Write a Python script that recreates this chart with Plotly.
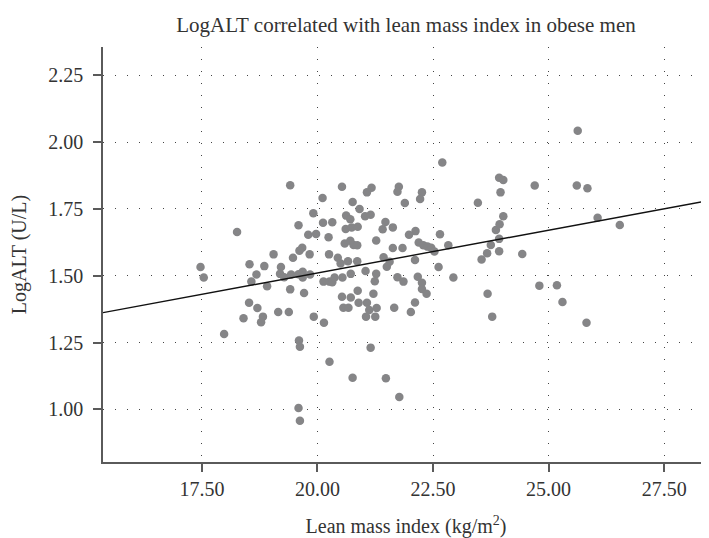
import plotly.graph_objects as go

# Lean mass index (kg/m^2)
lean_mass_index = [
    19.41, 20.11, 19.91, 20.12, 19.59, 18.26, 19.80, 19.97, 20.24, 19.67, 19.61, 19.05, 19.83, 20.25, 19.47, 18.53, 18.85,
    17.47, 19.21, 17.54, 18.68, 19.19, 19.28, 19.43, 19.68, 19.59, 19.68, 19.84, 18.57, 18.91, 19.41, 19.71, 20.13, 20.26,
    18.52, 18.70, 18.40, 18.82, 18.78, 19.15, 19.38, 19.92, 20.14, 17.98, 19.60, 19.62, 20.26, 19.59, 19.62,
    22.70, 23.93, 24.02, 23.96, 20.53, 21.17, 21.07, 21.76, 21.73, 22.26, 22.22, 20.76, 21.89, 23.47, 20.91, 20.62, 20.71,
    21.03, 21.15, 20.32, 21.47, 20.61, 20.74, 20.87, 21.41, 21.63, 22.12, 21.98, 22.65, 23.86, 23.94, 21.27, 23.93, 20.59,
    20.71, 20.78, 20.86, 21.63, 21.84, 22.19, 22.29, 22.38, 22.46, 22.53, 22.83, 23.75, 23.93, 20.44, 20.50, 20.66, 20.86,
    21.43, 21.56, 21.50, 22.11, 22.62, 23.67, 23.55, 20.72, 21.04, 21.27, 20.32, 20.37, 20.54, 21.24, 21.73, 21.86, 22.17,
    22.26, 22.94, 20.87, 21.21, 22.26, 22.36, 23.68, 20.53, 20.72,
    20.56, 20.67, 20.89, 21.07, 21.12, 21.28, 21.05, 21.25, 21.66, 22.11, 22.02, 23.78, 21.15, 20.76, 21.48, 21.77,
    25.63, 24.70, 25.61, 25.84, 24.43, 26.06, 26.54, 24.80, 25.18, 25.30, 25.82, 24.02,
]

# LogALT (U/L)
log_alt = [
    1.839, 1.791, 1.734, 1.698, 1.689, 1.664, 1.653, 1.656, 1.644, 1.605, 1.594, 1.580, 1.580, 1.580, 1.567, 1.543, 1.536,
    1.533, 1.533, 1.493, 1.505, 1.507, 1.494, 1.505, 1.515, 1.506, 1.493, 1.505, 1.478, 1.461, 1.449, 1.435, 1.478, 1.478,
    1.399, 1.379, 1.341, 1.347, 1.326, 1.364, 1.364, 1.347, 1.324, 1.282, 1.258, 1.234, 1.178, 1.005, 0.957,
    1.924, 1.867, 1.858, 1.812, 1.833, 1.829, 1.812, 1.833, 1.814, 1.812, 1.787, 1.776, 1.772, 1.773, 1.750, 1.725, 1.711,
    1.723, 1.728, 1.700, 1.701, 1.675, 1.681, 1.683, 1.674, 1.681, 1.667, 1.653, 1.655, 1.671, 1.693, 1.632, 1.638, 1.621,
    1.631, 1.615, 1.614, 1.604, 1.604, 1.624, 1.614, 1.609, 1.605, 1.591, 1.614, 1.615, 1.592, 1.567, 1.546, 1.554, 1.554,
    1.569, 1.552, 1.534, 1.559, 1.533, 1.584, 1.561, 1.507, 1.518, 1.507, 1.476, 1.493, 1.493, 1.479, 1.494, 1.478, 1.496,
    1.474, 1.493, 1.444, 1.433, 1.450, 1.433, 1.433, 1.421, 1.419,
    1.380, 1.380, 1.399, 1.399, 1.372, 1.379, 1.347, 1.347, 1.380, 1.400, 1.364, 1.347, 1.231, 1.118, 1.116, 1.046,
    2.043, 1.838, 1.838, 1.827, 1.581, 1.717, 1.690, 1.463, 1.464, 1.402, 1.324, 1.723,
]

n = min(len(lean_mass_index), len(log_alt))
lean_mass_index = lean_mass_index[:n]
log_alt = log_alt[:n]

# Fitted regression line
fit_intercept = 0.8705
fit_slope = 0.0320

x_range = [15.36, 28.47]
y_range = [0.803, 2.356]
x_ticks = [17.5, 20.0, 22.5, 25.0, 27.5]
x_tick_labels = ["17.50", "20.00", "22.50", "25.00", "27.50"]
y_ticks = [1.00, 1.25, 1.50, 1.75, 2.00, 2.25]
y_tick_labels = ["1.00", "1.25", "1.50", "1.75", "2.00", "2.25"]

line_x = x_range
line_y = [fit_intercept + fit_slope * v for v in line_x]

SERIF = "Liberation Serif, Times New Roman, serif"
TXT = "#333333"
AX = "#5a5a5a"

# page body has an 8px default margin; size figure so the plot lands in place
W, H = 701, 530

fig = go.Figure()
fig.add_trace(go.Scatter(
    x=lean_mass_index, y=log_alt, mode="markers",
    marker=dict(size=8.5, color="#858587", line=dict(width=0)),
    showlegend=False, hoverinfo="x+y",
))
fig.add_trace(go.Scatter(
    x=line_x, y=line_y, mode="lines",
    line=dict(color="#111111", width=1.4),
    showlegend=False, hoverinfo="skip",
))

fig.update_layout(
    width=W, height=H,
    margin=dict(l=95, r=0, t=39, b=76, autoexpand=False),
    paper_bgcolor="white", plot_bgcolor="white",
    title=dict(
        text="LogALT correlated with lean mass index in obese men",
        font=dict(family=SERIF, size=21, color=TXT),
        x=0.5, xref="paper", xanchor="center",
        y=1 - 17 / H, yref="container", yanchor="middle",
    ),
    font=dict(family=SERIF, color=TXT),
)

grid_common = dict(
    showgrid=True, gridcolor="#444444", gridwidth=1, griddash="1px,11px",
    zeroline=False, showline=True, linecolor=AX, linewidth=1.5,
    ticks="outside", ticklen=8, tickcolor=AX, tickwidth=1.5,
    tickfont=dict(family=SERIF, size=20, color=TXT),
)

fig.update_xaxes(
    range=x_range, tickvals=x_ticks, ticktext=x_tick_labels,
    title=dict(text="Lean mass index (kg/m<sup>2</sup>)",
               font=dict(family=SERIF, size=20, color=TXT), standoff=22),
    **grid_common,
)
fig.update_yaxes(
    range=y_range, tickvals=y_ticks, ticktext=y_tick_labels,
    ticklabelstandoff=6,
    title=dict(text="LogALT (U/L)",
               font=dict(family=SERIF, size=20, color=TXT), standoff=16),
    **grid_common,
)

fig.write_html("out.html")
